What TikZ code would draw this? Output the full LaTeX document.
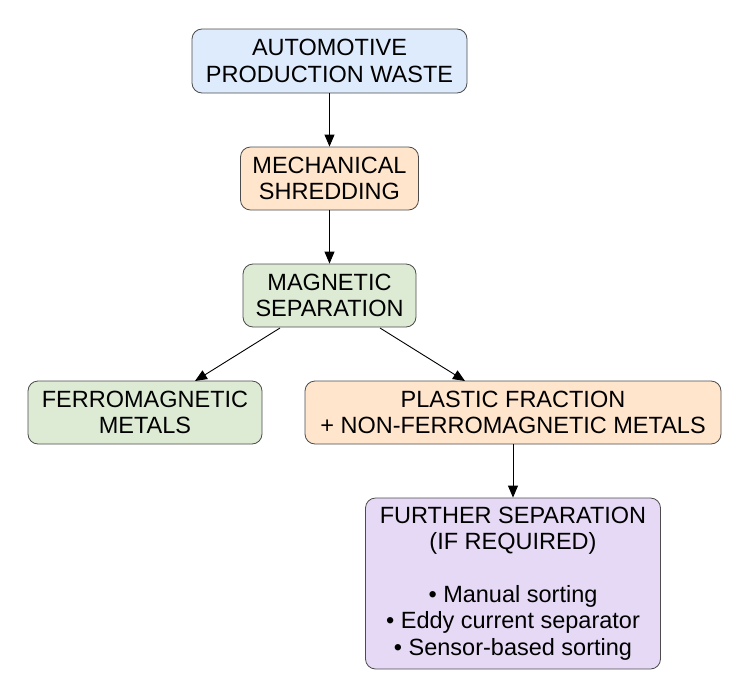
\documentclass[tikz,border=0pt]{standalone}
\usepackage{fontspec}
\setmainfont{Liberation Sans}
\usetikzlibrary{arrows.meta}
\definecolor{cblue}{HTML}{DDEBFC}
\definecolor{corange}{HTML}{FFE5CC}
\definecolor{cgreen}{HTML}{DDEBD5}
\definecolor{cpurple}{HTML}{E6D9F5}
\tikzset{
  box/.style={draw=black!70, rounded corners=10pt, align=center, font=\fontsize{23.5}{26.5}\selectfont, inner sep=0pt, line width=0.8pt},
  arr/.style={-{Triangle[length=12pt,width=10pt]}, line width=0.9pt}
}
\begin{document}
\begin{tikzpicture}[x=1pt,y=-1pt]
\useasboundingbox (0,0) rectangle (750,699);
\node[box, fill=cblue, minimum width=275pt, minimum height=64pt] (A) at (329.5,61) {AUTOMOTIVE\\PRODUCTION WASTE};
\node[box, fill=corange, minimum width=178pt, minimum height=63pt] (B) at (329.5,178.5) {MECHANICAL\\SHREDDING};
\node[box, fill=cgreen, minimum width=173pt, minimum height=63pt] (C) at (329.5,295.5) {MAGNETIC\\SEPARATION};
\node[box, fill=cgreen, minimum width=234pt, minimum height=63pt] (D) at (145,412.5) {FERROMAGNETIC\\METALS};
\node[box, fill=corange, minimum width=416pt, minimum height=63pt] (E) at (513,412.5) {PLASTIC FRACTION\\+ NON-FERROMAGNETIC METALS};
\node[box, fill=cpurple, minimum width=295pt, minimum height=171pt] (F) at (513,583.5) {FURTHER SEPARATION\\(IF REQUIRED)\\[26pt]• Manual sorting\\• Eddy current separator\\• Sensor-based sorting};
\draw[arr] (A) -- (B);
\draw[arr] (B) -- (C);
\coordinate (c1) at (280,328);
\coordinate (c2) at (380,328);
\coordinate (d1) at (195,381);
\coordinate (e1) at (465,381);
\draw[arr] (c1) -- (d1);
\draw[arr] (c2) -- (e1);
\draw[arr] (E.south) -- (F.north);
\end{tikzpicture}
\end{document}
